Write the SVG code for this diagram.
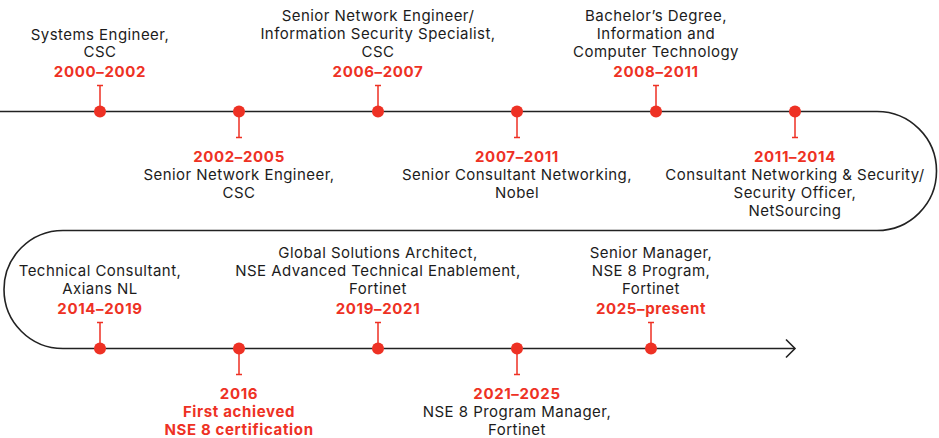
<svg xmlns="http://www.w3.org/2000/svg" width="939" height="438" viewBox="0 0 939 438">
<style>
text{font-family:Inter,"Liberation Sans",sans-serif;font-size:15px;text-anchor:middle;fill:#1c1c1c;letter-spacing:0.45px}
.y{font-weight:700;fill:#EE3124;letter-spacing:0.65px}
.dot{fill:#EE3124}
.stem{stroke:#EE3124;stroke-width:1.5;fill:none}
.track{stroke:#222;stroke-width:1.6;fill:none}
</style>
<rect width="939" height="438" fill="#fff"/>
<g id="connectors">
<path class="track" d="M0,111.5 H877 A59.5,59.5 0 0 1 877,230.5 H63 A59,59 0 0 0 63,348.5 H795"/>
<path class="track" d="M786,339.5 L795,348.5 L786,357.5"/>
</g>
<g id="n1"><path class="stem" d="M100,111.5V85.5M97,85.5H103"/><circle class="dot" cx="100" cy="111.5" r="6"/>
<text x="100" y="39.5">Systems Engineer,</text><text x="100" y="57">CSC</text><text class="y" x="100" y="77">2000–2002</text></g>
<g id="n2"><path class="stem" d="M239,111.5V137.5M236,137.5H242"/><circle class="dot" cx="239" cy="111.5" r="6"/>
<text class="y" x="239" y="161.5">2002–2005</text><text x="239" y="179.5">Senior Network Engineer,</text><text x="239" y="197.5">CSC</text></g>
<g id="n3"><path class="stem" d="M378,111.5V85.5M375,85.5H381"/><circle class="dot" cx="378" cy="111.5" r="6"/>
<text x="378" y="21">Senior Network Engineer/</text><text x="378" y="39">Information Security Specialist,</text><text x="378" y="57">CSC</text><text class="y" x="378" y="77">2006–2007</text></g>
<g id="n4"><path class="stem" d="M517,111.5V137.5M514,137.5H520"/><circle class="dot" cx="517" cy="111.5" r="6"/>
<text class="y" x="517" y="161.5">2007–2011</text><text x="517" y="179.5">Senior Consultant Networking,</text><text x="517" y="197.5">Nobel</text></g>
<g id="n5"><path class="stem" d="M656,111.5V85.5M653,85.5H659"/><circle class="dot" cx="656" cy="111.5" r="6"/>
<text x="656" y="21">Bachelor’s Degree,</text><text x="656" y="39">Information and</text><text x="656" y="57">Computer Technology</text><text class="y" x="656" y="77">2008–2011</text></g>
<g id="n6"><path class="stem" d="M795,111.5V137.5M792,137.5H798"/><circle class="dot" cx="795" cy="111.5" r="6"/>
<text class="y" x="795" y="161.5">2011–2014</text><text x="795" y="179.5">Consultant Networking &amp; Security/</text><text x="795" y="197.5">Security Officer,</text><text x="795" y="215.5">NetSourcing</text></g>
<g id="n7"><path class="stem" d="M100,348.5V322.5M97,322.5H103"/><circle class="dot" cx="100" cy="348.5" r="6"/>
<text x="100" y="276">Technical Consultant,</text><text x="100" y="294">Axians NL</text><text class="y" x="100" y="314">2014–2019</text></g>
<g id="n8"><path class="stem" d="M239,348.5V374.5M236,374.5H242"/><circle class="dot" cx="239" cy="348.5" r="6"/>
<text class="y" x="239" y="399">2016</text><text class="y" x="239" y="417">First achieved</text><text class="y" x="239" y="435">NSE 8 certification</text></g>
<g id="n9"><path class="stem" d="M378,348.5V322.5M375,322.5H381"/><circle class="dot" cx="378" cy="348.5" r="6"/>
<text x="378" y="258">Global Solutions Architect,</text><text x="378" y="276">NSE Advanced Technical Enablement,</text><text x="378" y="294">Fortinet</text><text class="y" x="378" y="314">2019–2021</text></g>
<g id="n10"><path class="stem" d="M517,348.5V374.5M514,374.5H520"/><circle class="dot" cx="517" cy="348.5" r="6"/>
<text class="y" x="517" y="399">2021–2025</text><text x="517" y="417">NSE 8 Program Manager,</text><text x="517" y="435">Fortinet</text></g>
<g id="n11"><path class="stem" d="M651,348.5V322.5M648,322.5H654"/><circle class="dot" cx="651" cy="348.5" r="6"/>
<text x="651" y="258">Senior Manager,</text><text x="651" y="276">NSE 8 Program,</text><text x="651" y="294">Fortinet</text><text class="y" x="651" y="314">2025–present</text></g>
</svg>
